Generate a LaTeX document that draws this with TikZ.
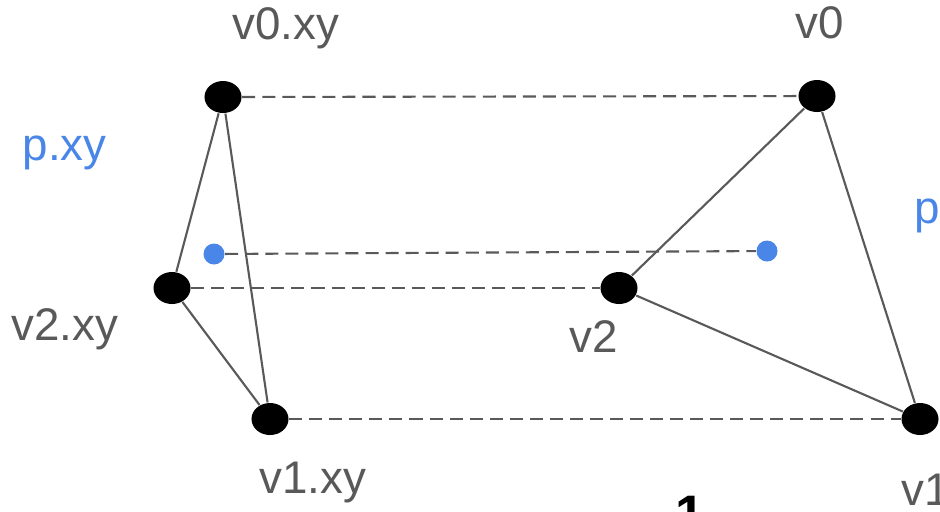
\documentclass[tikz,border=0pt]{standalone}
\usepackage{fontspec}
\setmainfont{Liberation Sans}
\usetikzlibrary{shapes.geometric}
\definecolor{linegray}{HTML}{595959}
\definecolor{pblue}{HTML}{4A86E8}
\tikzset{
    vertex/.style={ellipse, fill=black, minimum width=0.37cm, minimum height=0.32cm, inner sep=0pt},
    pdot/.style={circle, fill=pblue, minimum size=0.21cm, inner sep=0pt},
    edge/.style={draw=linegray, line width=0.6pt},
    link/.style={draw=linegray, line width=0.6pt, dash pattern=on 3.7pt off 2pt},
    vlabel/.style={anchor=base west, inner sep=0pt, text=linegray, font=\fontsize{13}{15}\selectfont},
    plabel/.style={vlabel, text=pblue},
}

\begin{document}
\begin{tikzpicture}[x=0.01cm, y=-0.01cm]
\useasboundingbox (0,0) rectangle (940,511);
\clip (0,0) rectangle (940,511);

% projected triangle
\node[vertex] (v0xy) at (223,97) {};
\node[vertex] (v2xy) at (172,288) {};
\node[vertex] (v1xy) at (270,419) {};
\node[pdot] (pxy) at (214,254) {};

% triangle in 3d
\node[vertex] (v0) at (817,96) {};
\node[vertex] (v2) at (619,288) {};
\node[vertex] (v1) at (920,419) {};
\node[pdot] (p) at (767,251) {};

\draw[edge] (v0xy) -- (v2xy) -- (v1xy) -- (v0xy);
\draw[edge] (v0) -- (v2) -- (v1) -- (v0);

\draw[link] (v0xy) -- (v0);
\draw[link] (v2xy) -- (v2);
\draw[link] (v1xy) -- (v1);
\draw[link] (pxy) -- (p);

% labels
\node[vlabel] (lv0xy) at (232,39) {v0.xy};
\node[vlabel] (lv0) at (795,38) {v0};
\node[plabel] (lpxy) at (22,160) {p.xy};
\node[plabel] (lp) at (914,223) {p};
\node[vlabel] (lv2xy) at (11,340) {v2.xy};
\node[vlabel] (lv2) at (569,352) {v2};
\node[vlabel] (lv1xy) at (259,493) {v1.xy};
\node[vlabel] (lv1) at (901,505) {v1};
\node[anchor=base west, inner sep=0pt, font=\fontsize{15}{18}\selectfont\bfseries] (pagenum) at (675,532) {1};
\end{tikzpicture}
\end{document}
